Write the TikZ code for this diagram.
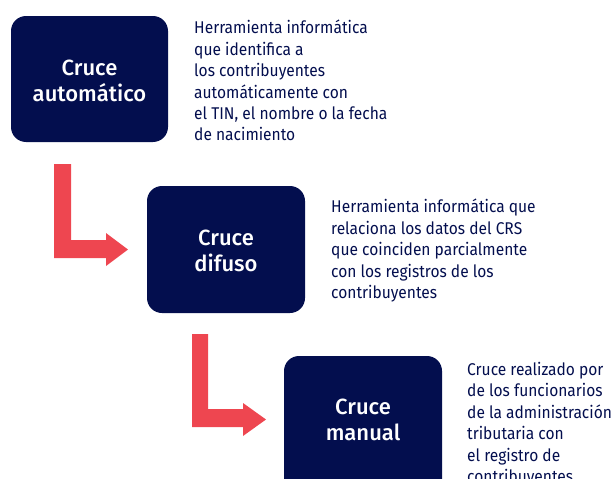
\documentclass[tikz,border=0pt]{standalone}
\usepackage{fontspec}
\setmainfont{Fira Sans}[FakeStretch=0.915]
\newfontfamily\boxfont{Fira Sans Medium}
\definecolor{navy}{RGB}{3,14,78}
\definecolor{arrred}{RGB}{238,70,80}
\begin{document}
\begin{tikzpicture}[x=1pt,y=-1pt,
  stepbox/.style={fill=navy,rounded corners=15pt,text=white,font=\boxfont\fontsize{22}{25.5}\selectfont,align=center},
  desc/.style={text=navy,font=\fontsize{17}{21.4}\selectfont,align=left,anchor=north west,inner sep=0pt},
  bent/.style={fill=arrred,draw=none}]
\useasboundingbox (0,0) rectangle (611,479);
\clip (0,0) rectangle (611,479);
% boxes
\path[stepbox] (11,16) rectangle (168,142);
\node[stepbox] (b1) at (89.5,81) {Cruce\\automático};
\path[stepbox] (147,186) rectangle (305,313);
\node[stepbox] (b2) at (226,251) {Cruce\\difuso};
\path[stepbox] (284,356) rectangle (442,500);
\node[stepbox] (b3) at (363,420) {Cruce\\manual};
% descriptions
\node[desc] (d1) at (194,20) {Herramienta informática\\que identifica a\\los contribuyentes\\automáticamente con\\el TIN, el nombre o la fecha\\de nacimiento};
\node[desc] (d2) at (331,199) {Herramienta informática que\\relaciona los datos del CRS\\que coinciden parcialmente\\con los registros de los\\contribuyentes};
\node[desc] (d3) at (467,362) {Cruce realizado por\\de los funcionarios\\de la administración\\tributaria con\\el registro de\\contribuyentes};
% bent arrows
\path[bent] (54,164) -- (71,164) -- (71,240) -- (106,240) -- (106,233) -- (128,249.5) -- (106,266) -- (106,258) -- (54,258) -- cycle;
\path[bent] (192,334) -- (208,334) -- (208,409) -- (243,409) -- (243,403) -- (266,419.5) -- (243,436) -- (243,427) -- (192,427) -- cycle;
\end{tikzpicture}
\end{document}
